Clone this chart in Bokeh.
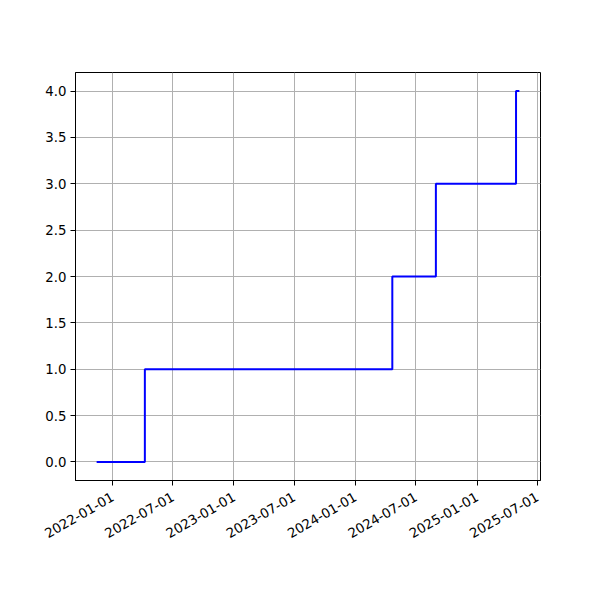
import math
import pandas as pd
from bokeh.plotting import figure
from bokeh.models import Range1d, FixedTicker, DatetimeTickFormatter, NumeralTickFormatter, ColumnDataSource
from bokeh.embed import file_html
from bokeh.resources import INLINE

# data
dates = ["2021-11-14", "2022-04-08", "2024-04-21", "2024-08-30", "2025-04-28", "2025-05-08"]
counts = [0, 1, 2, 3, 4, 4]
x_tick_labels = ["2022-01-01", "2022-07-01", "2023-01-01", "2023-07-01",
                 "2024-01-01", "2024-07-01", "2025-01-01", "2025-07-01"]
y_ticks = [0.0, 0.5, 1.0, 1.5, 2.0, 2.5, 3.0, 3.5, 4.0]

xd = pd.to_datetime(dates)
src = ColumnDataSource(dict(x=xd, y=counts))

def ms(t):
    return pd.Timestamp(t).value / 1e6

xs = [ms(d) for d in dates]
span = max(xs) - min(xs)
ymin, ymax = min(counts), max(counts)
yspan = ymax - ymin

p = figure(width=592, height=592, output_backend="svg", toolbar_location=None,
           x_axis_type="datetime",
           x_range=Range1d(min(xs) - 0.05 * span, max(xs) + 0.05 * span),
           y_range=Range1d(ymin - 0.05 * yspan, ymax + 0.05 * yspan),
           frame_width=465, frame_height=408,
           min_border_left=75, min_border_right=52, min_border_top=72, min_border_bottom=112)

p.step("x", "y", source=src, mode="after", line_color="blue", line_width=2)

p.xaxis.ticker = FixedTicker(ticks=[ms(t) for t in x_tick_labels])
p.xaxis.formatter = DatetimeTickFormatter(days="%Y-%m-%d", months="%Y-%m-%d", years="%Y-%m-%d")
p.yaxis.ticker = FixedTicker(ticks=y_ticks)
p.yaxis.formatter = NumeralTickFormatter(format="0.0")
p.xaxis.major_label_orientation = math.pi / 6

for ax in (p.xaxis, p.yaxis):
    ax.major_label_text_font = "DejaVu Sans"
    ax.major_label_text_font_size = "13.3px"
    ax.major_label_text_color = "black"
    ax.axis_line_color = "black"
    ax.major_tick_line_color = "black"
    ax.major_tick_in = 0
    ax.major_tick_out = 5
    ax.minor_tick_line_color = None
    ax.major_label_standoff = 4
p.xaxis.major_label_standoff = 10

p.grid.grid_line_color = "#b0b0b0"
p.grid.grid_line_width = 1
p.outline_line_color = "black"
p.outline_line_width = 1
p.background_fill_color = "white"
p.border_fill_color = "white"

open("out.html", "w").write(file_html(p, INLINE))
